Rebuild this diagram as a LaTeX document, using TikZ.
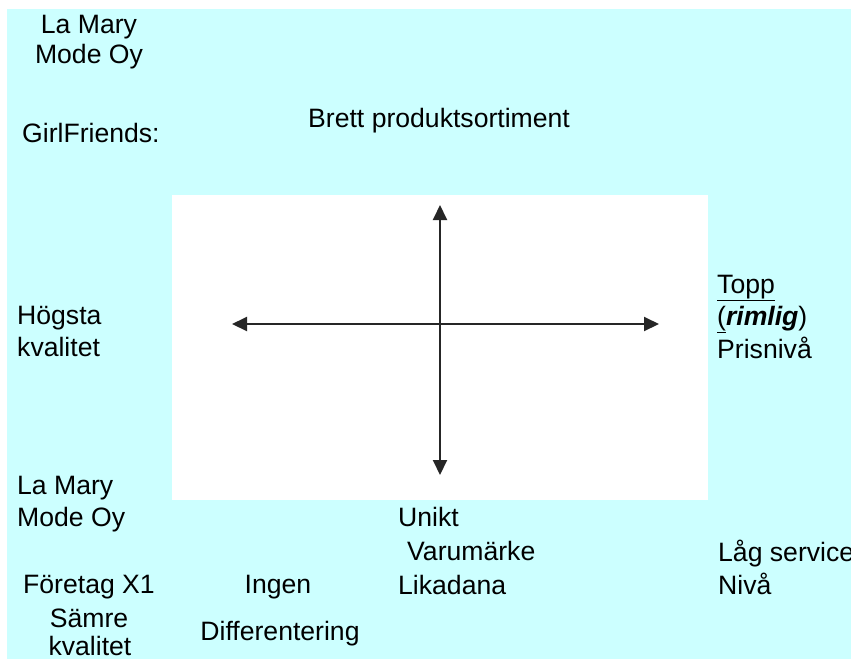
\documentclass[tikz,border=0pt]{standalone}
\usepackage{fontspec}
\setmainfont{Liberation Sans}
\usetikzlibrary{arrows.meta}
\definecolor{bgcyan}{RGB}{204,255,255}
\begin{document}
\begin{tikzpicture}[x=1pt,y=-1pt,
  lbl/.style={anchor=base west,inner sep=0pt,font=\fontsize{26.6}{34}\selectfont,text=black},
  lblc/.style={anchor=base,inner sep=0pt,font=\fontsize{26.6}{34}\selectfont,text=black},
  axis/.style={line width=2pt,draw=black!85,-{Triangle[width=14pt,length=15pt]}}]
\useasboundingbox (0,0) rectangle (851,659);
\fill[white] (0,0) rectangle (851,659);
\fill[bgcyan] (7,9) rectangle (851,659);
\fill[white] (172,195) rectangle (708,500);
% axes
\coordinate (c) at (440,324);
\coordinate (L) at (232,324);
\coordinate (R) at (659,324);
\coordinate (T) at (440,205);
\coordinate (B) at (440,475);
\draw[axis] (c) -- (L);
\draw[axis] (c) -- (R);
\draw[axis] (c) -- (T);
\draw[axis] (c) -- (B);
% texts
\node[lblc] (lm1) at (89,33) {La Mary};
\node[lblc] (lm2) at (89,63) {Mode Oy};
\node[lbl] (gf) at (22,142) {GirlFriends:};
\node[lbl] (brett) at (308,127) {Brett produktsortiment};
\node[lbl] (hog) at (17,324) {Högsta};
\node[lbl] (kv1) at (17,356) {kvalitet};
\node[lbl] (topp) at (717,293) {\underline{Topp}};
\node[lbl] (rim) at (717,325) {\underline{(}\textbf{\textit{rimlig}})};
\node[lbl] (pris) at (717,358) {Prisnivå};
\node[lbl] (lm3) at (17,494) {La Mary};
\node[lbl] (lm4) at (17,526) {Mode Oy};
\node[lbl] (unikt) at (398,526) {Unikt};
\node[lbl] (varu) at (407,560) {Varumärke};
\node[lbl] (lika) at (398,594) {Likadana};
\node[lbl] (lag) at (718,561) {Låg service};
\node[lbl] (niva) at (718,594) {Nivå};
\node[lbl] (ftg) at (23,593) {Företag X1};
\node[lblc] (samre) at (89,627) {Sämre};
\node[lblc] (kv2) at (90,655) {kvalitet};
\node[lblc] (ingen) at (278,593) {Ingen};
\node[lblc] (diff) at (280,640) {Differentering};
\end{tikzpicture}
\end{document}
